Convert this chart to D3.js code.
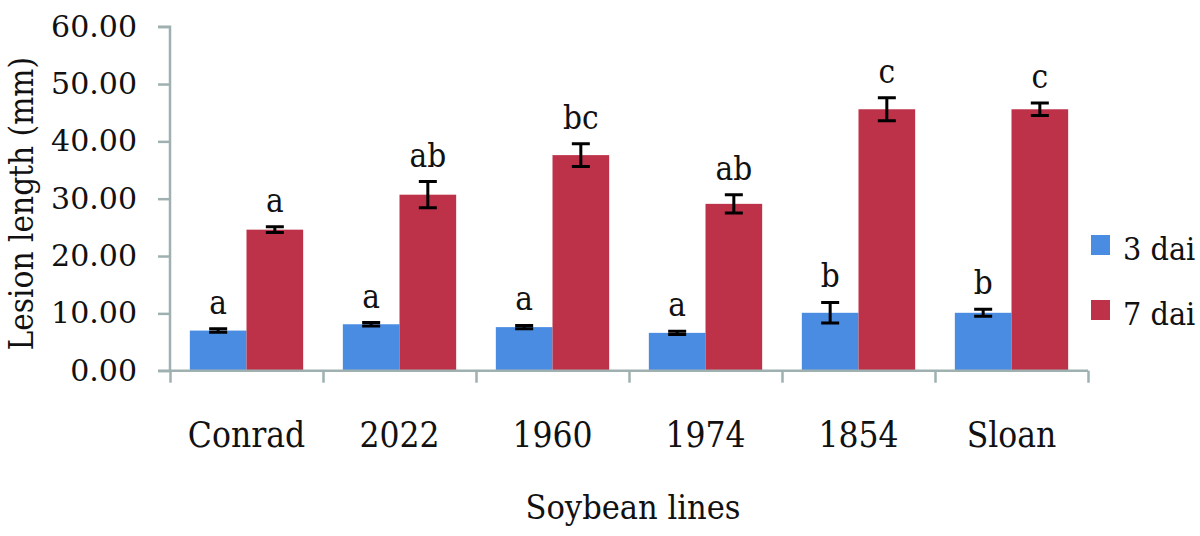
<!DOCTYPE html>
<html>
<head>
<meta charset="utf-8">
<script src="https://cdn.jsdelivr.net/npm/d3@7"></script>
<style>
  html, body { margin: 0; padding: 0; background: #fff; }
  svg { display: block; }
</style>
</head>
<body>
<svg id="chart" width="1200" height="536"></svg>
<script>
const categories = ["Conrad", "2022", "1960", "1974", "1854", "Sloan"];
const seriesNames = ["3 dai", "7 dai"];
const dai3 = [7.0, 8.1, 7.6, 6.6, 10.1, 10.1];
const dai3Err = [0.3, 0.3, 0.3, 0.3, 1.8, 0.6];
const dai7 = [24.6, 30.7, 37.6, 29.1, 45.6, 45.6];
const dai7Err = [0.5, 2.3, 2.0, 1.6, 2.0, 1.1];
const letters3 = ["a", "a", "a", "a", "b", "b"];
const letters7 = ["a", "ab", "bc", "ab", "c", "c"];
const yTicks = [0, 10, 20, 30, 40, 50, 60];
const colors = ["#4a8ce2", "#bd3248"];

const FONT = "'DejaVu Serif', 'Liberation Serif', 'Times New Roman', serif";
const svg = d3.select("#chart");
const mLeft = 170, mRight = 1088, mTop = 26.7, mBottom = 370.7;
const axisColor = "#9fb0b0";

const y = d3.scaleLinear().domain([0, 60]).range([mBottom, mTop]);
const x = d3.scaleBand().domain(categories).range([mLeft, mRight]).paddingInner(0).paddingOuter(0);
const x1 = d3.scaleBand().domain(seriesNames).range([0, x.bandwidth()]).paddingOuter(0.35).paddingInner(0);
const xIdx = d3.scaleLinear().domain([0, categories.length]).range([mLeft, mRight]);

const rows = categories.map((c, i) => ({
  cat: c,
  vals: [
    { s: seriesNames[0], v: dai3[i], e: dai3Err[i], l: letters3[i], c: colors[0] },
    { s: seriesNames[1], v: dai7[i], e: dai7Err[i], l: letters7[i], c: colors[1] }
  ]
}));

const g = svg.append("g");
const groups = g.selectAll("g.grp").data(rows).join("g")
  .attr("class", "grp")
  .attr("transform", d => `translate(${x(d.cat)},0)`);

groups.selectAll("rect").data(d => d.vals).join("rect")
  .attr("x", d => x1(d.s))
  .attr("width", x1.bandwidth())
  .attr("y", d => y(d.v))
  .attr("height", d => y(0) - y(d.v))
  .attr("fill", d => d.c);

const cap = 9;
groups.selectAll("path.err").data(d => d.vals).join("path")
  .attr("class", "err")
  .attr("d", d => {
    const cx = x1(d.s) + x1.bandwidth() / 2;
    const y1 = y(d.v + d.e), y2 = y(d.v - d.e);
    return `M${cx - cap},${y1}H${cx + cap}M${cx},${y1}V${y2}M${cx - cap},${y2}H${cx + cap}`;
  })
  .attr("stroke", "#000")
  .attr("stroke-width", 3)
  .attr("fill", "none");

groups.selectAll("text.lt").data(d => d.vals).join("text")
  .attr("class", "lt")
  .attr("x", d => x1(d.s) + x1.bandwidth() / 2)
  .attr("y", d => y(d.v + d.e) - 15)
  .attr("text-anchor", "middle")
  .style("font-size", "33px")
  .text(d => d.l);

const yAxis = svg.append("g")
  .attr("transform", `translate(${mLeft},0)`)
  .call(d3.axisLeft(y).tickValues(yTicks).tickFormat(d3.format(".2f")).tickSize(12).tickPadding(21));

const xAxis = svg.append("g")
  .attr("transform", `translate(0,${mBottom})`)
  .call(d3.axisBottom(xIdx).tickValues(d3.range(categories.length + 1)).tickSize(12).tickFormat(""));

const xLab = svg.append("g")
  .attr("transform", `translate(0,${mBottom})`)
  .call(d3.axisBottom(x).tickSize(0).tickPadding(0));
xLab.select(".domain").remove();
xLab.selectAll("text").attr("y", 76).attr("dy", null).style("font-size", "35px");

[yAxis, xAxis].forEach(a => {
  a.selectAll(".domain").attr("stroke", axisColor).attr("stroke-width", 2.5);
  a.selectAll(".tick line").attr("stroke", axisColor).attr("stroke-width", 2.5);
});
yAxis.select(".domain").attr("d", `M-12,${mTop}H0V${mBottom}H-12`);
xAxis.select(".domain").attr("d", `M${mLeft},0H${mRight}`);

svg.append("text")
  .attr("transform", `translate(33,${(mTop + mBottom) / 2 + 5}) rotate(-90)`)
  .attr("text-anchor", "middle")
  .style("font-size", "33px")
  .text("Lesion length (mm)");

svg.append("text")
  .attr("x", (mLeft + mRight) / 2 + 4)
  .attr("y", 519)
  .attr("text-anchor", "middle")
  .style("font-size", "34px")
  .text("Soybean lines");

const legend = svg.append("g").selectAll("g").data(seriesNames).join("g")
  .attr("transform", (d, i) => `translate(1091,${235 + i * 65})`);
legend.append("rect").attr("width", 19).attr("height", 20).attr("fill", (d, i) => colors[i]);
legend.append("text").attr("x", 32).attr("y", 25).style("font-size", "32px").text(d => d);

svg.selectAll("g").attr("font-family", null);
svg.selectAll("text")
  .style("font-family", FONT)
  .style("font-stretch", "condensed")
  .attr("fill", "#111");
yAxis.selectAll(".tick text")
  .style("font-stretch", "normal")
  .style("font-size", "30px");
</script>
</body>
</html>
